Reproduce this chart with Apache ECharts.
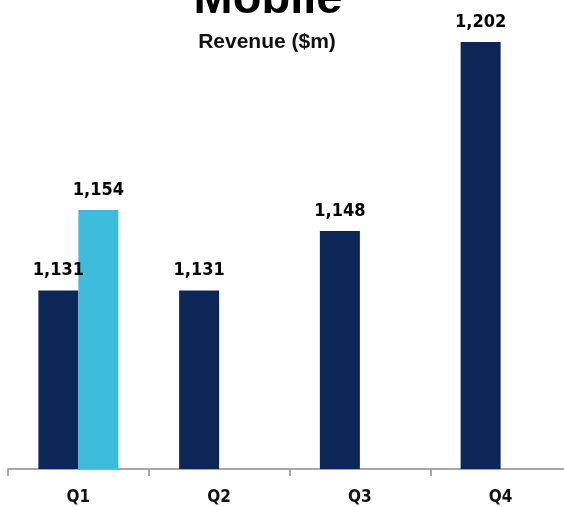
<!DOCTYPE html>
<html>
<head>
<meta charset="utf-8">
<script src="https://cdn.jsdelivr.net/npm/echarts@6/dist/echarts.min.js"></script>
<style>
  html, body { margin: 0; padding: 0; background: #ffffff; }
  #chart { width: 564px; height: 507px; }
</style>
</head>
<body>
<div id="chart"></div>
<script>
// Quarterly mobile revenue, $m
const quarters = ['Q1', 'Q2', 'Q3', 'Q4'];
const revenueMain = [1131, 1131, 1148, 1202];
const revenueAlt = [1154, null, null, null];

const labelFont = '"DejaVu Sans Condensed", "DejaVu Sans", sans-serif';
const fmt = p => p.value == null ? '' : p.value.toLocaleString('en-US');

const chart = echarts.init(document.getElementById('chart'), null, { renderer: 'canvas' });
chart.setOption({
  animation: false,
  backgroundColor: '#ffffff',
  title: [
    {
      text: 'Mobile',
      left: 263,
      top: -28,
      textAlign: 'center',
      textStyle: { fontFamily: '"Liberation Sans", Arial, sans-serif', fontWeight: 'bold', fontSize: 47, color: '#000000' }
    },
    {
      text: 'Revenue ($m)',
      left: 262,
      top: 27,
      textAlign: 'center',
      textStyle: { fontFamily: '"Liberation Sans", Arial, sans-serif', fontWeight: 'bold', fontSize: 21, color: '#111111' }
    }
  ],
  grid: { left: 8, width: 563, top: 0, bottom: 38, containLabel: false, outerBoundsMode: 'none' },
  xAxis: {
    type: 'category',
    data: quarters,
    boundaryGap: true,
    axisLine: { show: true, lineStyle: { color: '#8c8c8c', width: 1.5 } },
    axisTick: { show: true, length: 7, lineStyle: { color: '#8c8c8c', width: 1.5 } },
    axisLabel: { margin: 20, fontFamily: labelFont, fontWeight: 'bold', fontSize: 17, color: '#111111' }
  },
  yAxis: {
    type: 'value',
    min: 1080,
    max: 1214,
    show: false,
    splitLine: { show: false }
  },
  series: [
    {
      type: 'bar',
      data: revenueMain,
      barWidth: 40,
      barGap: '0%',
      itemStyle: { color: '#0c2657' },
      label: { show: true, position: 'top', distance: 11, formatter: fmt, fontFamily: labelFont, fontWeight: 'bold', fontSize: 18, color: '#000000' }
    },
    {
      type: 'bar',
      data: revenueAlt,
      barWidth: 40,
      barGap: '0%',
      itemStyle: { color: '#3cbcda' },
      label: { show: true, position: 'top', distance: 11, formatter: fmt, fontFamily: labelFont, fontWeight: 'bold', fontSize: 18, color: '#000000' }
    }
  ]
});
</script>
</body>
</html>
